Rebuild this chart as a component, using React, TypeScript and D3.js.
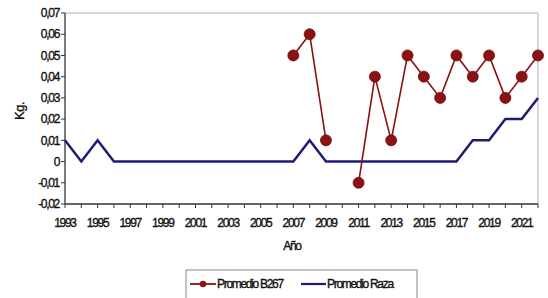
import React from "react";
import * as d3 from "d3";

const years: number[] = [1993,1994,1995,1996,1997,1998,1999,2000,2001,2002,2003,2004,2005,2006,2007,2008,2009,2010,2011,2012,2013,2014,2015,2016,2017,2018,2019,2020,2021,2022];
const b267: (number | null)[] = [null,null,null,null,null,null,null,null,null,null,null,null,null,null,0.05,0.06,0.01,null,-0.01,0.04,0.01,0.05,0.04,0.03,0.05,0.04,0.05,0.03,0.04,0.05];
const raza: number[] = [0.01,0,0.01,0,0,0,0,0,0,0,0,0,0,0,0,0.01,0,0,0,0,0,0,0,0,0,0.01,0.01,0.02,0.02,0.03];
const yTicks: number[] = [-0.02,-0.01,0,0.01,0.02,0.03,0.04,0.05,0.06,0.07];
const yTickLabels: string[] = ["-0,02","-0,01","0","0,01","0,02","0,03","0,04","0,05","0,06","0,07"];
const xTickLabels: number[] = [1993,1995,1997,1999,2001,2003,2005,2007,2009,2011,2013,2015,2017,2019,2021];

const RED = "#8a1212";
const BLUE = "#1c1c78";
const FONT = "'Liberation Sans', Arial, sans-serif";

export default function App() {
  const W = 548, H = 298;
  const left = 65, right = 538, top = 13, bottom = 204;
  const x = d3.scaleLinear().domain([1993, 2022]).range([left, right]);
  const y = d3.scaleLinear().domain([-0.02, 0.07]).range([bottom, top]);

  const lineB = d3.line<[number, number | null]>()
    .defined(d => d[1] !== null)
    .x(d => x(d[0]))
    .y(d => y(d[1] as number));
  const lineR = d3.line<[number, number]>().x(d => x(d[0])).y(d => y(d[1]));

  const bData: [number, number | null][] = years.map((yr, i) => [yr, b267[i]]);
  const rData: [number, number][] = years.map((yr, i) => [yr, raza[i]]);

  const textStyle: React.CSSProperties = {
    fontFamily: FONT, fontSize: 12, letterSpacing: -1.3, fill: "#111",
    stroke: "#111", strokeWidth: 0.35,
  };

  return (
    <svg width={W} height={H} style={{ position: "absolute", left: 0, top: 0, background: "#fff" }}>
      {/* plot frame top & right */}
      <line x1={left} x2={right} y1={top} y2={top} stroke="#b0b0b0" strokeWidth={1} />
      <line x1={right} x2={right} y1={top} y2={bottom} stroke="#b0b0b0" strokeWidth={1} />
      {/* axes */}
      <line x1={left} x2={left} y1={top} y2={bottom} stroke="#333" strokeWidth={1.3} />
      <line x1={left} x2={right} y1={bottom} y2={bottom} stroke="#333" strokeWidth={1.3} />
      {yTicks.map((t, i) => (
        <g key={"y" + i}>
          <line x1={left - 4} x2={left} y1={y(t)} y2={y(t)} stroke="#333" />
          <text x={left - 6} y={y(t)} dy="0.35em" textAnchor="end" style={textStyle}>{yTickLabels[i]}</text>
        </g>
      ))}
      {years.map((yr) => (
        <line key={"xt" + yr} x1={x(yr)} x2={x(yr)} y1={bottom} y2={bottom + 4} stroke="#333" />
      ))}
      {xTickLabels.map((yr) => (
        <text key={"xl" + yr} x={x(yr)} y={bottom + 23} textAnchor="middle" style={textStyle}>{yr}</text>
      ))}
      <text x={292} y={250} textAnchor="middle" style={textStyle}>Año</text>
      <text transform={`translate(24,111) rotate(-90)`} textAnchor="middle" style={{ ...textStyle, fontSize: 13, letterSpacing: -0.5 }}>Kg.</text>

      {/* series */}
      <path d={lineR(rData) || ""} fill="none" stroke={BLUE} strokeWidth={2.5} strokeLinejoin="miter" />
      <path d={lineB(bData) || ""} fill="none" stroke={RED} strokeWidth={1.6} />
      {bData.filter(d => d[1] !== null).map((d) => (
        <circle key={"c" + d[0]} cx={x(d[0])} cy={y(d[1] as number)} r={5.5} fill={RED} stroke="#6e0a0a" strokeWidth={0.8} />
      ))}

      {/* legend */}
      <rect x={186} y={270} width={231} height={34} fill="#fff" stroke="#888" strokeWidth={1} />
      <line x1={190} x2={216} y1={284} y2={284} stroke={RED} strokeWidth={1.8} />
      <circle cx={203} cy={284} r={3.2} fill={RED} />
      <text x={217} y={284} dy="0.35em" style={textStyle}>Promedio B267</text>
      <line x1={301} x2={326} y1={284} y2={284} stroke={BLUE} strokeWidth={2.2} />
      <text x={327} y={284} dy="0.35em" style={textStyle}>Promedio Raza</text>
    </svg>
  );
}
